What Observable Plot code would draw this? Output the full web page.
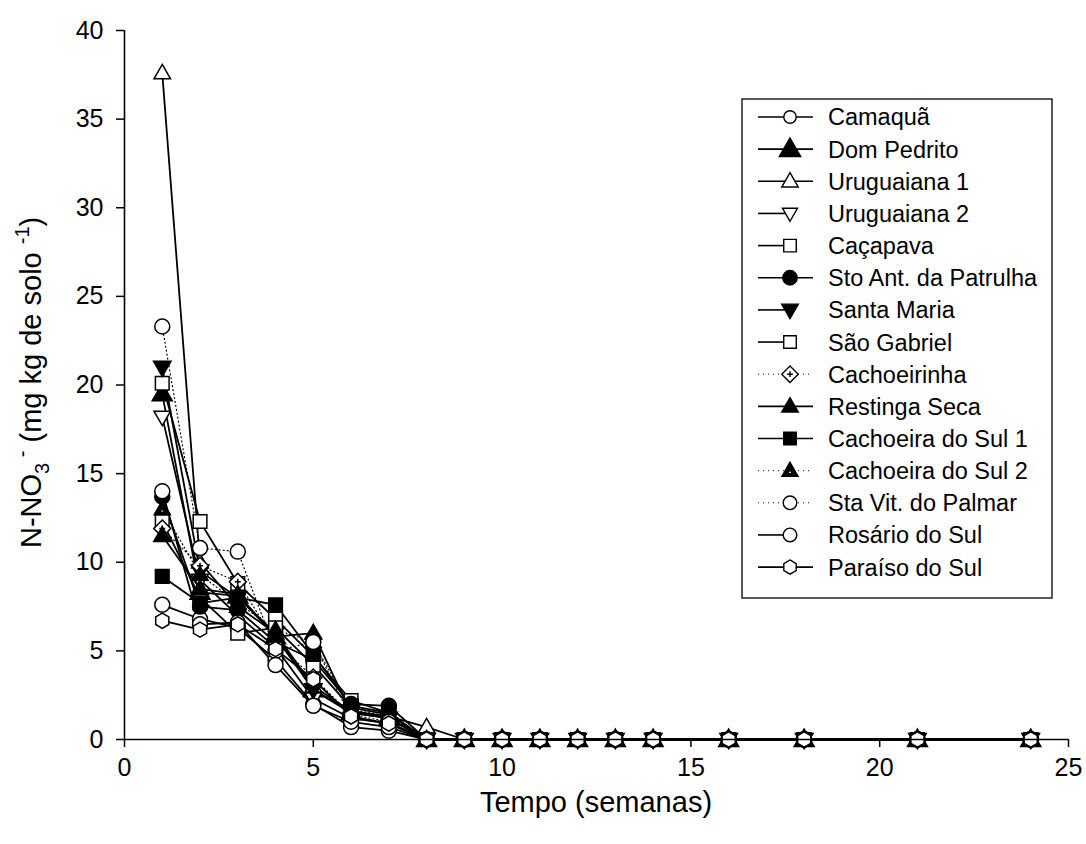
<!DOCTYPE html>
<html>
<head>
<meta charset="utf-8">
<script src="https://cdn.jsdelivr.net/npm/d3@7"></script>
<script src="https://cdn.jsdelivr.net/npm/@observablehq/plot@0.6"></script>
<style>
  html, body { margin: 0; padding: 0; background: white; }
</style>
</head>
<body>
<div id="chart"></div>
<script>
// ---------------- DATA ----------------
const weeks = [1, 2, 3, 4, 5, 6, 7, 8, 9, 10, 11, 12, 13, 14, 16, 18, 21, 24];

const camaqua        = [7.6, 6.8, 6.3, 4.5, 2.0, 0.7, 0.5, 0, 0, 0, 0, 0, 0, 0, 0, 0, 0, 0];
const domPedrito     = [19.5, 8.3, 8.1, 5.8, 2.8, 1.5, 1.2, 0, 0, 0, 0, 0, 0, 0, 0, 0, 0, 0];
const uruguaiana1    = [37.6, 10.0, 7.5, 6.0, 3.0, 1.6, 1.3, 0.7, 0, 0, 0, 0, 0, 0, 0, 0, 0, 0];
const uruguaiana2    = [18.2, 9.0, 7.0, 5.2, 2.3, 1.2, 0.9, 0, 0, 0, 0, 0, 0, 0, 0, 0, 0, 0];
const cacapava       = [20.1, 12.3, 8.8, 6.8, 4.7, 2.2, 1.5, 0, 0, 0, 0, 0, 0, 0, 0, 0, 0, 0];
const stoAntonio     = [13.7, 7.5, 7.3, 5.5, 4.5, 2.0, 1.9, 0, 0, 0, 0, 0, 0, 0, 0, 0, 0, 0];
const santaMaria     = [21.0, 9.5, 8.0, 6.0, 2.8, 1.6, 1.2, 0, 0, 0, 0, 0, 0, 0, 0, 0, 0, 0];
const saoGabriel     = [12.3, 8.0, 6.0, 6.3, 4.2, 1.8, 1.4, 0, 0, 0, 0, 0, 0, 0, 0, 0, 0, 0];
const cachoeirinha   = [11.9, 9.8, 8.9, 5.5, 3.5, 1.4, 1.0, 0, 0, 0, 0, 0, 0, 0, 0, 0, 0, 0];
const restingaSeca   = [11.5, 8.5, 8.2, 5.8, 6.0, 1.5, 1.2, 0, 0, 0, 0, 0, 0, 0, 0, 0, 0, 0];
const cachoeiraSul1  = [9.2, 7.7, 8.0, 7.6, 4.8, 1.9, 1.5, 0, 0, 0, 0, 0, 0, 0, 0, 0, 0, 0];
const cachoeiraSul2  = [13.0, 9.3, 7.7, 6.2, 5.5, 1.7, 1.3, 0, 0, 0, 0, 0, 0, 0, 0, 0, 0, 0];
const staVitPalmar   = [23.3, 10.8, 10.6, 5.0, 5.5, 1.2, 1.0, 0, 0, 0, 0, 0, 0, 0, 0, 0, 0, 0];
const rosarioSul     = [14.0, 6.5, 6.6, 4.2, 1.9, 1.0, 0.7, 0, 0, 0, 0, 0, 0, 0, 0, 0, 0, 0];
const paraisoSul     = [6.7, 6.2, 6.5, 5.1, 3.4, 1.3, 0.9, 0, 0, 0, 0, 0, 0, 0, 0, 0, 0, 0];

const seriesNames = ["Camaquã", "Dom Pedrito", "Uruguaiana 1", "Uruguaiana 2", "Caçapava",
  "Sto Ant. da Patrulha", "Santa Maria", "São Gabriel", "Cachoeirinha", "Restinga Seca",
  "Cachoeira do Sul 1", "Cachoeira do Sul 2", "Sta Vit. do Palmar", "Rosário do Sul", "Paraíso do Sul"];
const seriesValues = [camaqua, domPedrito, uruguaiana1, uruguaiana2, cacapava, stoAntonio,
  santaMaria, saoGabriel, cachoeirinha, restingaSeca, cachoeiraSul1, cachoeiraSul2,
  staVitPalmar, rosarioSul, paraisoSul];

const xTicks = [0, 5, 10, 15, 20, 25];
const yTicks = [0, 5, 10, 15, 20, 25, 30, 35, 40];

// ---------------- SYMBOLS ----------------
const R = s => Math.sqrt(s / Math.PI);
const sym = {
  circle: { draw(c, s) { const r = R(s); c.moveTo(r, 0); c.arc(0, 0, r, 0, 2 * Math.PI); } },
  triUp: { draw(c, s) { const r = R(s); c.moveTo(0, -r * 1.2); c.lineTo(r * 1.15, r * 0.8); c.lineTo(-r * 1.15, r * 0.8); c.closePath(); } },
  triDown: { draw(c, s) { const r = R(s); c.moveTo(0, r * 1.2); c.lineTo(r * 1.15, -r * 0.8); c.lineTo(-r * 1.15, -r * 0.8); c.closePath(); } },
  square: { draw(c, s) { const r = R(s) * 0.95; c.rect(-r, -r, 2 * r, 2 * r); } },
  diamondPlus: { draw(c, s) { const r = R(s) * 1.25; c.moveTo(0, -r); c.lineTo(r, 0); c.lineTo(0, r); c.lineTo(-r, 0); c.closePath();
    const a = r * 0.35; c.moveTo(-a, 0); c.lineTo(a, 0); c.moveTo(0, -a); c.lineTo(0, a); } },
  triHole: { draw(c, s) { const r = R(s); c.moveTo(0, -r * 1.2); c.lineTo(r * 1.15, r * 0.8); c.lineTo(-r * 1.15, r * 0.8); c.closePath();
    const k = 0.3; c.moveTo(0, -r * 1.2 * k + r * 0.2); c.lineTo(-r * 1.15 * k, r * 0.8 * k + r * 0.2); c.lineTo(r * 1.15 * k, r * 0.8 * k + r * 0.2); c.closePath(); } },
  hexagon: { draw(c, s) { const r = R(s) * 1.08; for (let k = 0; k < 6; k++) { const a = -Math.PI / 2 + k * Math.PI / 3;
    const x = r * Math.cos(a), y = r * Math.sin(a); if (k === 0) c.moveTo(x, y); else c.lineTo(x, y); } c.closePath(); } }
};

const styles = [
  { s: sym.circle, fill: "white", r: 7.5, dash: null, leg: "full", lr: 6.2 },
  { s: sym.triUp, fill: "black", r: 8.7, dash: null, leg: "full", lr: 9.3 },
  { s: sym.triUp, fill: "white", r: 7.2, dash: null, leg: "full", lr: 7.2 },
  { s: sym.triDown, fill: "white", r: 7.2, dash: null, leg: "left", lr: 6.5 },
  { s: sym.square, fill: "white", r: 7.2, dash: null, leg: "left", lr: 6.6 },
  { s: sym.circle, fill: "black", r: 7.5, dash: null, leg: "full", lr: 7.2 },
  { s: sym.triDown, fill: "black", r: 7.6, dash: null, leg: "left", lr: 7.2 },
  { s: sym.square, fill: "white", r: 7.2, dash: null, leg: "left", lr: 6.6 },
  { s: sym.diamondPlus, fill: "white", r: 6.8, dash: "1,3", leg: "dotted", lr: 6.6 },
  { s: sym.triUp, fill: "black", r: 7.4, dash: null, leg: "full", lr: 7.2 },
  { s: sym.square, fill: "black", r: 7.2, dash: null, leg: "full", lr: 6.6 },
  { s: sym.triHole, fill: "black", r: 7, dash: "1,3", leg: "dotted", lr: 7 },
  { s: sym.circle, fill: "white", r: 7.5, dash: "1,3", leg: "dotted", lr: 6.8 },
  { s: sym.circle, fill: "white", r: 7.5, dash: null, leg: "left", lr: 6.8 },
  { s: sym.hexagon, fill: "white", r: 7, dash: null, leg: "full", lr: 6.6 }
];

const tables = seriesValues.map((vals, i) => weeks.map((w, j) => ({ series: seriesNames[i], week: w, value: vals[j] })));

const lineMarks = tables.map((t, i) => Plot.line(t, {
  x: "week", y: "value", stroke: "black",
  strokeWidth: styles[i].dash ? 1.2 : 1.8,
  strokeDasharray: styles[i].dash || undefined
}));
const dotMarks = tables.map((t, i) => Plot.dot(t, {
  x: "week", y: "value", symbol: styles[i].s, r: styles[i].r,
  fill: styles[i].fill, stroke: "black", strokeWidth: 1.5
}));

const font = "'Liberation Sans', Arial, sans-serif";

const chart = Plot.plot({
  width: 1086, height: 844,
  marginLeft: 124, marginRight: 18, marginTop: 30, marginBottom: 105,
  style: { fontFamily: font, fontSize: "25px", color: "black", background: "white" },
  x: { domain: [0, 25] },
  y: { domain: [0, 40] },
  marks: [
    Plot.axisX({ ticks: xTicks, tickSize: 8, tickPadding: 11, label: null, strokeWidth: 1.5, fontSize: 25 }),
    Plot.axisY({ ticks: yTicks, tickSize: 8, tickPadding: 13, label: null, strokeWidth: 1.5, fontSize: 25 }),
    ...lineMarks,
    ...dotMarks,
    Plot.ruleX([0], { stroke: "black", strokeWidth: 1.6 }),
    Plot.ruleY([0], { stroke: "black", strokeWidth: 1.6 })
  ]
});

document.getElementById("chart").appendChild(chart);

// ---------------- AXIS TITLES ----------------
const svg = d3.select(chart);

svg.append("text")
  .attr("x", 596).attr("y", 812)
  .attr("text-anchor", "middle")
  .attr("font-family", font).attr("font-size", 29).attr("fill", "black")
  .text("Tempo (semanas)");

const yl = svg.append("text")
  .attr("transform", "translate(41,548) rotate(-90)")
  .attr("text-anchor", "start")
  .attr("font-family", font).attr("font-size", 29).attr("fill", "black");
yl.append("tspan").text("N-NO");
yl.append("tspan").attr("font-size", 20).attr("dy", 8).text("3");
yl.append("tspan").attr("font-size", 20).attr("dy", -20).text(" -");
yl.append("tspan").attr("dy", 12).text(" (mg kg de solo ");
yl.append("tspan").attr("font-size", 20).attr("dy", -12).text("-1");
yl.append("tspan").attr("dy", 12).text(")");

// ---------------- LEGEND ----------------
const leg = svg.append("g").attr("text-anchor", "start");
leg.append("rect").attr("x", 742).attr("y", 99).attr("width", 310).attr("height", 499)
  .attr("fill", "white").attr("stroke", "black").attr("stroke-width", 1.3);
seriesNames.forEach((name, i) => {
  const y = 117 + i * 32.15;
  const st = styles[i];
  const x2 = st.leg === "left" ? 786 : 813;
  leg.append("line").attr("x1", 758).attr("x2", x2).attr("y1", y).attr("y2", y)
    .attr("stroke", "black").attr("stroke-width", st.leg === "dotted" ? 1 : 1.6)
    .attr("stroke-dasharray", st.leg === "dotted" ? "1,4" : null);
  leg.append("path").attr("transform", `translate(790,${y})`)
    .attr("d", d3.symbol(st.s, Math.PI * st.lr * st.lr)())
    .attr("fill", st.fill).attr("stroke", "black").attr("stroke-width", 1.4);
  leg.append("text").attr("x", 828).attr("y", y).attr("dy", "0.36em")
    .attr("text-anchor", "start")
    .attr("font-family", font).attr("font-size", 23.5).attr("fill", "black").text(name);
});
</script>
</body>
</html>
